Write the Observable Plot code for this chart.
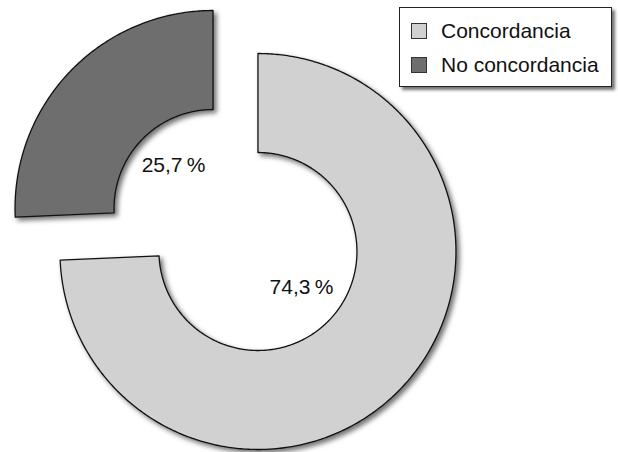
<!DOCTYPE html>
<html>
<head>
<meta charset="utf-8">
<script src="https://cdn.jsdelivr.net/npm/d3@7"></script>
<script src="https://cdn.jsdelivr.net/npm/@observablehq/plot@0.6"></script>
<style>
  html, body { margin: 0; padding: 0; background: #fff; }
  #wrap { position: relative; width: 618px; height: 452px; font-family: "Liberation Sans", Arial, Helvetica, sans-serif; }
  #legend { position: absolute; left: 399px; top: 7px; width: 211px; height: 78px; border: 1.5px solid #222; background: #fff;
    box-shadow: 3px 3px 3px rgba(0,0,0,0.55); box-sizing: content-box; }
  .item { position: absolute; left: 11px; display: flex; align-items: center; font-size: 21px; color: #111; height: 24px; }
  .sw { width: 14px; height: 14px; border: 1.3px solid #333; margin-right: 14px; }
</style>
</head>
<body>
<div id="wrap"></div>
<script>
// Data
const categories = ["Concordancia", "No concordancia"];
const values = [74.3, 25.7];
const colors = ["#d1d1d1", "#6e6e6e"];

// Geometry (unit = outer radius)
const innerRatio = 0.5;
const explode = 0.157;
const labelRadius = 0.29;

const total = d3.sum(values);
const polyPoints = [];
const labels = [];
let start = 0;
categories.forEach((cat, i) => {
  const a0 = start / total * 2 * Math.PI;
  const a1 = (start + values[i]) / total * 2 * Math.PI;
  start += values[i];
  const mid = (a0 + a1) / 2;
  const ox = explode * Math.sin(mid), oy = explode * Math.cos(mid);
  const n = Math.max(8, Math.ceil((a1 - a0) / 0.01));
  const pts = [];
  for (let k = 0; k <= n; k++) {
    const a = a0 + (a1 - a0) * k / n;
    pts.push([ox + Math.sin(a), oy + Math.cos(a)]);
  }
  for (let k = n; k >= 0; k--) {
    const a = a0 + (a1 - a0) * k / n;
    pts.push([ox + innerRatio * Math.sin(a), oy + innerRatio * Math.cos(a)]);
  }
  pts.push(pts[0]);
  pts.forEach(p => polyPoints.push({cat, x: p[0], y: p[1]}));
  labels.push({cat, x: ox + labelRadius * Math.sin(mid), y: oy + labelRadius * Math.cos(mid),
    text: values[i].toFixed(1).replace(".", ",") + "\u2009%"});
});

const W = 618, H = 452, px = 198, cx = 235, cy = 229.5;
const chart = Plot.plot({
  width: W, height: H,
  margin: 0,
  x: {domain: [-cx / px, (W - cx) / px], axis: null},
  y: {domain: [(cy - H) / px, cy / px], axis: null},
  color: {domain: categories, range: colors},
  style: {fontFamily: "'Liberation Sans', Arial, Helvetica, sans-serif", background: "#fff"},
  marks: [
    Plot.line(polyPoints, {x: "x", y: "y", z: "cat", fill: "cat", stroke: "#111", strokeWidth: 1.3, curve: "linear"}),
    Plot.text(labels, {x: "x", y: "y", text: "text", fontSize: 21, fill: "#111", dx: 2, dy: -4})
  ]
});
d3.select(chart).selectAll('g[aria-label="line"]').style("filter", "drop-shadow(3px 3px 2.5px rgba(0,0,0,0.55))");

const wrap = document.getElementById("wrap");
wrap.appendChild(chart);
const legend = document.createElement("div");
legend.id = "legend";
categories.forEach((c, i) => {
  const it = document.createElement("div");
  it.className = "item";
  it.style.top = (11 + i * 34) + "px";
  const sw = document.createElement("div");
  sw.className = "sw";
  sw.style.background = colors[i];
  const t = document.createElement("span");
  t.textContent = c;
  it.appendChild(sw); it.appendChild(t);
  legend.appendChild(it);
});
wrap.appendChild(legend);
</script>
</body>
</html>
